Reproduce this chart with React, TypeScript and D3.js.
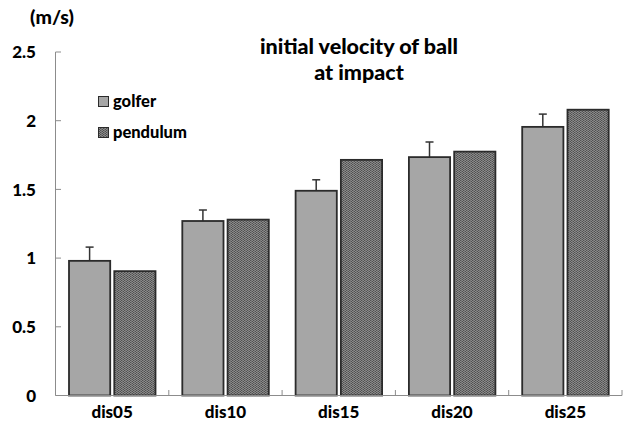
import React from "react";
import * as d3 from "d3";

const categories = ["dis05", "dis10", "dis15", "dis20", "dis25"];
const series = ["golfer", "pendulum"];
const golfer = [0.98, 1.27, 1.49, 1.735, 1.955];
const golferErr = [0.1, 0.08, 0.08, 0.11, 0.093];
const pendulum = [0.905, 1.28, 1.715, 1.775, 2.08];
const yTicks = [0, 0.5, 1, 1.5, 2, 2.5];

const W = 630;
const H = 429;
const FONT = "Lato, 'Open Sans', sans-serif";

export default function App() {
  const x = d3.scaleBand<string>().domain(categories).range([55.5, 622]).paddingInner(0).paddingOuter(0);
  const y = d3.scaleLinear().domain([0, 2.5]).range([395.5, 52]);
  const sub = d3.scaleBand<string>().domain(series).range([13.5, 100]).paddingInner(0.09);
  const bw = sub.bandwidth();
  const axisColor = "#8c8c8c";

  return (
    <svg width={W} height={H} style={{ position: "absolute", left: 0, top: 0, background: "#fff" }}>
      <defs>
        <pattern id="dots" width="3" height="2" patternUnits="userSpaceOnUse">
          <rect width="3" height="2" fill="#505050" />
          <rect x="0" y="0" width="1" height="1" fill="#8c8c8c" />
          <rect x="1" y="1" width="1" height="1" fill="#8c8c8c" />
          <rect x="2" y="0" width="1" height="2" fill="#767676" />
        </pattern>
      </defs>

      {/* y axis */}
      <line x1={55.5} x2={55.5} y1={y(2.5)} y2={y(0)} stroke={axisColor} strokeWidth={1} />
      {yTicks.map((t) => (
        <g key={t}>
          <line x1={55.5} x2={61} y1={y(t)} y2={y(t)} stroke={axisColor} />
          <text x={36} y={y(t)} dy="0.36em" textAnchor="end" fontFamily={FONT} fontWeight={900} fontSize={17}>
            {String(t)}
          </text>
        </g>
      ))}
      <text x={52} y={24} textAnchor="middle" fontFamily={FONT} fontWeight={900} fontSize={19.5}>(m/s)</text>

      {/* bars */}
      {categories.map((c, i) => {
        const x0 = x(c)!;
        const gx = x0 + sub("golfer")!;
        const px = x0 + sub("pendulum")!;
        return (
          <g key={c}>
            <line x1={gx + bw / 2} x2={gx + bw / 2} y1={y(golfer[i])} y2={y(golfer[i] + golferErr[i])} stroke="#333" strokeWidth={1.5} />
            <line x1={gx + bw / 2 - 4} x2={gx + bw / 2 + 4} y1={y(golfer[i] + golferErr[i])} y2={y(golfer[i] + golferErr[i])} stroke="#333" strokeWidth={1.5} />
            <rect x={gx} y={y(golfer[i])} width={bw} height={y(0) - y(golfer[i])} fill="#a6a6a6" stroke="#2b2b2b" strokeWidth={1.8} />
            <rect x={px} y={y(pendulum[i])} width={bw} height={y(0) - y(pendulum[i])} fill="url(#dots)" stroke="#2b2b2b" strokeWidth={1.8} />
          </g>
        );
      })}

      {/* x axis */}
      <line x1={55.5} x2={622} y1={395.5} y2={395.5} stroke={axisColor} />
      {categories.map((c) => (
        <line key={c} x1={x(c)! + x.bandwidth()} x2={x(c)! + x.bandwidth()} y1={395.5} y2={390} stroke={axisColor} />
      ))}
      {categories.map((c) => (
        <text key={c} x={x(c)! + x.bandwidth() / 2} y={418} textAnchor="middle" fontFamily={FONT} fontWeight={900} fontSize={17}>
          {c}
        </text>
      ))}

      {/* title */}
      <text x={359} y={54} textAnchor="middle" fontFamily={FONT} fontWeight={900} fontSize={21.5}>initial velocity of ball</text>
      <text x={359} y={80} textAnchor="middle" fontFamily={FONT} fontWeight={900} fontSize={21.5}>at impact</text>

      {/* legend */}
      <rect x={98.5} y={96.5} width={10} height={10} fill="#a6a6a6" stroke="#2b2b2b" strokeWidth={1} />
      <text x={113} y={107} fontFamily={FONT} fontWeight={900} fontSize={16.5}>golfer</text>
      <rect x={98.5} y={127.5} width={10} height={10} fill="url(#dots)" stroke="#2b2b2b" strokeWidth={1} />
      <text x={113} y={138} fontFamily={FONT} fontWeight={900} fontSize={16.5}>pendulum</text>
    </svg>
  );
}
